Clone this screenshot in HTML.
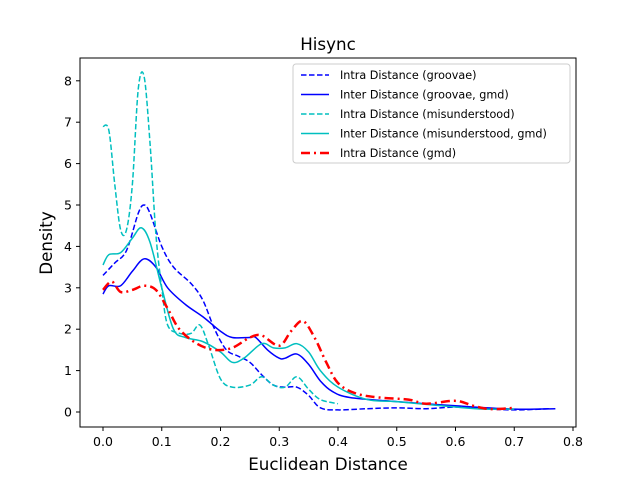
<!DOCTYPE html>
<html><head><meta charset="utf-8"><style>
body{margin:0;background:#fff}
svg{font-family:"DejaVu Sans","Liberation Sans",sans-serif}
</style></head><body>
<svg id="chart" width="640" height="480">
<rect width="640" height="480" fill="#fff"/>
<text x="328" y="50" text-anchor="middle" font-size="16.7">Hisync</text>
<g id="ticks"></g>
<g id="series"></g>
<rect x="80" y="58" width="496" height="369" fill="none" stroke="#000" stroke-width="1"/>
<text x="328" y="470" text-anchor="middle" font-size="16.7">Euclidean Distance</text>
<text x="52" y="243" text-anchor="middle" font-size="16.7" transform="rotate(-90 52 243)">Density</text>
<g id="legend">
<rect x="293" y="64" width="277" height="99" rx="3" fill="#fff" stroke="#ccc"/>
</g>
</svg>
<script>
const xTicks=[0,0.1,0.2,0.3,0.4,0.5,0.6,0.7,0.8];
const yTicks=[0,1,2,3,4,5,6,7,8];
const names=["Intra Distance (groovae)","Inter Distance (groovae, gmd)","Intra Distance (misunderstood)","Inter Distance (misunderstood, gmd)","Intra Distance (gmd)"];
const s1x=[0,0.02,0.04,0.06,0.07,0.08,0.1,0.12,0.15,0.17,0.19,0.21,0.23,0.25,0.27,0.29,0.31,0.33,0.35,0.37,0.4,0.45,0.5,0.55,0.6,0.65,0.7,0.76];
const s1y=[3.3,3.6,3.9,4.8,5.0,4.8,4.0,3.5,3.1,2.7,2.0,1.5,1.35,1.2,0.9,0.65,0.6,0.6,0.4,0.1,0.05,0.08,0.1,0.08,0.12,0.08,0.05,0.08];
const s2x=[0,0.01,0.03,0.05,0.07,0.09,0.11,0.14,0.17,0.2,0.22,0.25,0.26,0.28,0.3,0.31,0.33,0.35,0.37,0.39,0.42,0.5,0.6,0.7,0.77];
const s2y=[2.85,3.05,3.05,3.4,3.7,3.5,3.0,2.6,2.3,1.95,1.8,1.8,1.8,1.5,1.3,1.3,1.4,1.15,0.75,0.5,0.35,0.25,0.15,0.07,0.08];
const s3x=[0,0.01,0.02,0.03,0.04,0.05,0.06,0.07,0.08,0.09,0.1,0.11,0.13,0.15,0.165,0.18,0.2,0.22,0.25,0.27,0.29,0.31,0.33,0.35,0.37,0.4];
const s3y=[6.9,6.8,5.5,4.4,4.4,5.5,7.8,8.1,6.5,4.3,3.0,2.1,1.9,1.9,2.1,1.6,0.8,0.6,0.65,0.85,0.65,0.6,0.85,0.55,0.3,0.2];
const s4x=[0,0.01,0.03,0.05,0.065,0.08,0.1,0.12,0.14,0.17,0.2,0.22,0.24,0.27,0.29,0.31,0.33,0.35,0.37,0.4,0.45,0.5,0.6,0.65,0.7];
const s4y=[3.55,3.8,3.85,4.2,4.45,4.1,3.0,2.0,1.8,1.7,1.45,1.2,1.3,1.65,1.55,1.55,1.65,1.45,1.0,0.6,0.3,0.25,0.12,0.07,0.07];
const s5x=[0,0.015,0.03,0.05,0.07,0.09,0.11,0.13,0.16,0.19,0.22,0.25,0.27,0.3,0.32,0.34,0.36,0.38,0.4,0.43,0.47,0.52,0.55,0.6,0.63,0.66,0.7];
const s5y=[2.95,3.15,2.9,2.95,3.05,2.95,2.5,2.0,1.65,1.5,1.55,1.8,1.85,1.6,1.95,2.2,1.8,1.2,0.7,0.45,0.35,0.3,0.2,0.27,0.15,0.07,0.1];
const NS="http://www.w3.org/2000/svg";
const X=v=>103+v*587.5, Y=v=>412-v*41.4;
function mk(tag,attrs,parent){const e=document.createElementNS(NS,tag);for(const k in attrs)e.setAttribute(k,attrs[k]);parent.appendChild(e);return e;}
const tg=document.getElementById('ticks');
xTicks.forEach(t=>{
 const l=mk('line',{x1:X(t),x2:X(t),y1:427,y2:431,stroke:'#000'},tg);
 
 
 const tx=mk('text',{x:X(t),y:446,'text-anchor':'middle','font-size':'12.5'},tg);tx.textContent=t.toFixed(1);
 
 
});
yTicks.forEach(t=>{
 const l=mk('line',{x1:76,x2:80,y1:Y(t),y2:Y(t),stroke:'#000'},tg);
 
 
 const tx=mk('text',{x:72,y:Y(t)+4.5,'text-anchor':'end','font-size':'12.5'},tg);tx.textContent=String(t);
 
 
});
function path(xs,ys){
 const p=xs.map((x,i)=>[X(x),Y(ys[i])]);let d='M'+p[0][0]+','+p[0][1];
 for(let i=0;i<p.length-1;i++){const p0=p[i-1]||p[i],p1=p[i],p2=p[i+1],p3=p[i+2]||p2;
  d+=' C'+(p1[0]+(p2[0]-p0[0])/6)+','+(p1[1]+(p2[1]-p0[1])/6)+' '+(p2[0]-(p3[0]-p1[0])/6)+','+(p2[1]-(p3[1]-p1[1])/6)+' '+p2[0]+','+p2[1];}
 return d;}
const styles=[
 {c:'#0000ff',w:1.5,da:'5.5,2.5'},{c:'#0000ff',w:1.5,da:''},{c:'#00bfbf',w:1.5,da:'5.5,2.5'},{c:'#00bfbf',w:1.5,da:''},{c:'#ff0000',w:2.5,da:'9,4,2,4'}];
const data=[[s1x,s1y],[s2x,s2y],[s3x,s3y],[s4x,s4y],[s5x,s5y]];
const sg=document.getElementById('series');
const seriesNames=['series-intra-groovae','series-inter-groovae-gmd','series-intra-misunderstood','series-inter-misunderstood-gmd','series-intra-gmd'];
data.forEach((s,i)=>{
 const a={d:path(s[0],s[1]),fill:'none',stroke:styles[i].c,'stroke-width':styles[i].w};
 if(styles[i].da)a['stroke-dasharray']=styles[i].da;
 const p=mk('path',a,sg);
 
 
});
const lg=document.getElementById('legend');
names.forEach((n,i)=>{
 const y=75+i*19.5;
 const a={x1:301,x2:329,y1:y,y2:y,stroke:styles[i].c,'stroke-width':styles[i].w};
 if(styles[i].da)a['stroke-dasharray']=styles[i].da;
 const l=mk('line',a,lg);
 
 
 const t=mk('text',{x:340,y:y+4,'font-size':'11.2'},lg);t.textContent=n;
 
 
});
</script>
</body></html>
